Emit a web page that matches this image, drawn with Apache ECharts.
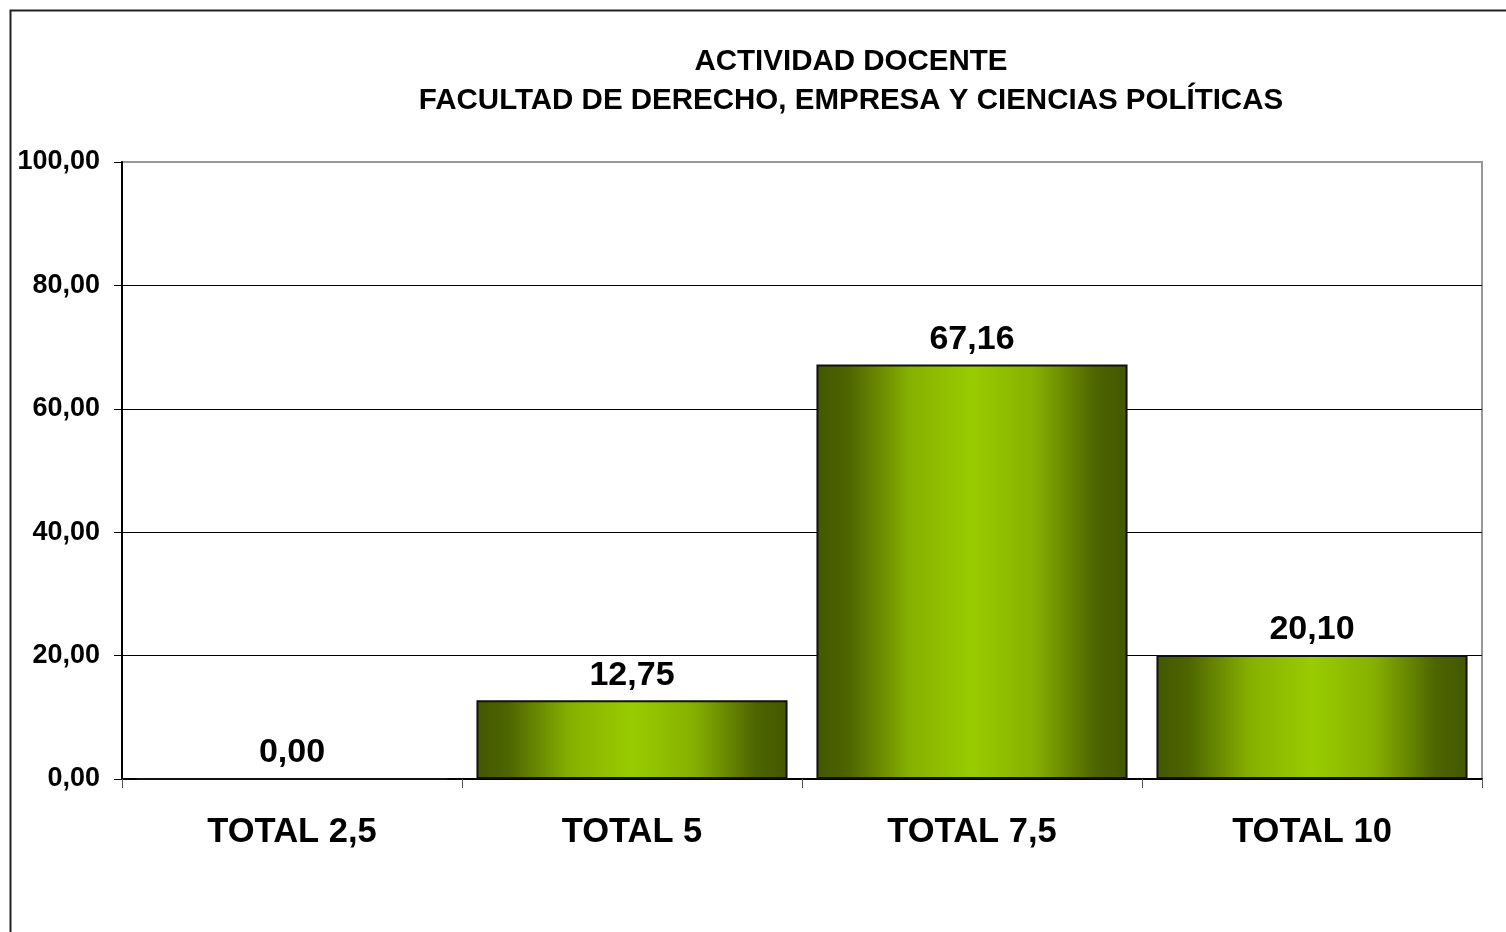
<!DOCTYPE html>
<html>
<head>
<meta charset="utf-8">
<script src="https://cdn.jsdelivr.net/npm/echarts@6/dist/echarts.min.js"></script>
<style>
  html, body { margin: 0; padding: 0; background: #fff; }
  #chart { width: 1506px; height: 932px; }
</style>
</head>
<body>
<div id="chart"></div>
<script>
const titleLines = ['ACTIVIDAD DOCENTE', 'FACULTAD DE DERECHO, EMPRESA Y CIENCIAS POLÍTICAS']
const categories = ['TOTAL 2,5', 'TOTAL 5', 'TOTAL 7,5', 'TOTAL 10']
const values = [0.0, 12.75, 67.16, 20.1]
const yTicks = [0, 20, 40, 60, 80, 100]

const fmt = (v) => v.toFixed(2).replace('.', ',')
const font = '"Liberation Sans", Arial, sans-serif'

const chart = echarts.init(document.getElementById('chart'))

const barColor = new echarts.graphic.LinearGradient(0, 0, 1, 0, [
  { offset: 0, color: '#435800' },
  { offset: 0.1, color: '#4d6400' },
  { offset: 0.3, color: '#86b000' },
  { offset: 0.5, color: '#99cc00' },
  { offset: 0.7, color: '#86b000' },
  { offset: 0.9, color: '#4d6400' },
  { offset: 1, color: '#435800' },
])

const option = {
  backgroundColor: '#fff',
  animation: false,
  title: {
    text: titleLines.join('\n'),
    left: 846,
    textAlign: 'center',
    top: 37,
    textStyle: {
      fontFamily: font,
      fontSize: 29.5,
      fontWeight: 'bold',
      color: '#000',
      lineHeight: 39,
    },
  },
  graphic: [
    {
      type: 'rect',
      shape: { x: 10.5, y: 10.5, width: 1520, height: 950 },
      style: { fill: null, stroke: '#222', lineWidth: 2 },
      silent: true,
      z: -10,
    },
  ],
  grid: {
    left: 122,
    right: 24,
    top: 162,
    bottom: 153,
    show: true,
    borderColor: '#999',
    borderWidth: 2,
  },
  xAxis: {
    type: 'category',
    data: categories,
    axisLine: { lineStyle: { color: '#000', width: 2 } },
    axisTick: { show: true, length: 9, lineStyle: { color: '#555', width: 1 } },
    axisLabel: {
      margin: 36,
      fontFamily: font,
      fontSize: 34.5,
      fontWeight: 'bold',
      color: '#000',
    },
  },
  yAxis: {
    type: 'value',
    min: yTicks[0],
    max: yTicks[yTicks.length - 1],
    interval: 20,
    axisLine: { show: true, lineStyle: { color: '#000', width: 2 } },
    axisTick: { show: true, length: 8, lineStyle: { color: '#000', width: 1 } },
    axisLabel: {
      margin: 22,
      fontFamily: font,
      fontSize: 27,
      fontWeight: 'bold',
      color: '#000',
      formatter: (v) => fmt(v),
    },
    splitLine: {
      lineStyle: {
        color: ['#000', '#000', '#000', '#000', '#000', '#999'],
        width: 1,
      },
    },
  },
  series: [
    {
      type: 'bar',
      data: values,
      barCategoryGap: '8.5%',
      itemStyle: {
        color: barColor,
        borderColor: '#111',
        borderWidth: 2,
      },
      label: {
        show: true,
        position: 'top',
        distance: 8,
        fontFamily: font,
        fontSize: 34,
        fontWeight: 'bold',
        color: '#000',
        formatter: (p) => fmt(p.value),
      },
    },
  ],
}

chart.setOption(option)
</script>
</body>
</html>
